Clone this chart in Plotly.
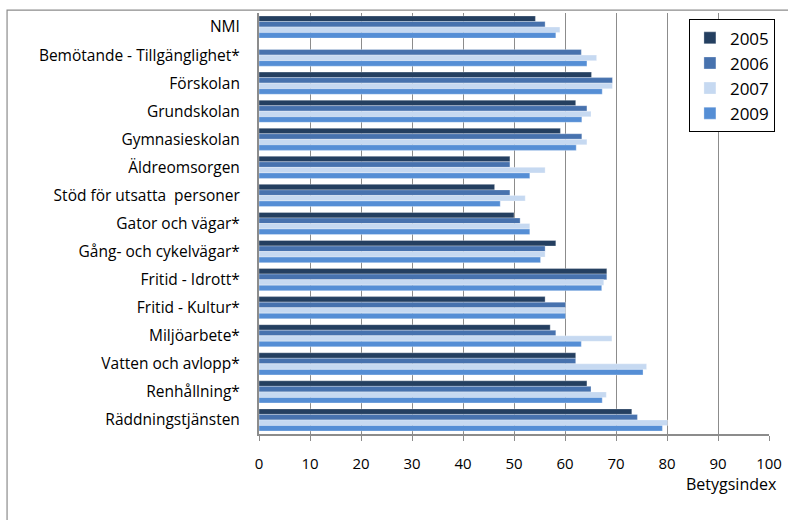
import plotly.graph_objects as go

categories = ["NMI", "Bemötande - Tillgänglighet*", "Förskolan", "Grundskolan",
              "Gymnasieskolan", "Äldreomsorgen", "Stöd för utsatta  personer",
              "Gator och vägar*", "Gång- och cykelvägar*", "Fritid - Idrott*",
              "Fritid - Kultur*", "Miljöarbete*", "Vatten och avlopp*",
              "Renhållning*", "Räddningstjänsten"]

v2005 = [54.2, None, 65.2, 62.1, 59.1, 49.2, 46.2, 50.0, 58.2, 68.2, 56.1, 57.1, 62.1, 64.3, 73.1]
v2006 = [56.1, 63.2, 69.3, 64.3, 63.3, 49.2, 49.2, 51.2, 56.1, 68.2, 60.1, 58.2, 62.1, 65.1, 74.2]
v2007 = [59.0, 66.2, 69.3, 65.1, 64.3, 56.1, 52.2, 53.1, 56.1, 67.6, 60.1, 69.2, 76.0, 68.1, 80.1]
v2009 = [58.2, 64.3, 67.3, 63.3, 62.2, 53.1, 47.3, 53.1, 55.2, 67.2, 60.1, 63.2, 75.3, 67.3, 79.1]

series = [("2005", v2005, "#243F60"), ("2006", v2006, "#4772AE"),
          ("2007", v2007, "#C6D9F1"), ("2009", v2009, "#558ED5")]

x_ticks = [0, 10, 20, 30, 40, 50, 60, 70, 80, 90, 100]

fig = go.Figure()
for name, vals, col in series:
    fig.add_trace(go.Bar(y=categories, x=vals, name=name, orientation="h",
                         marker=dict(color=col, line=dict(color="rgba(255,255,255,0.6)", width=0.5))))

fig.update_layout(
    width=788, height=520,
    margin=dict(l=259, r=19, t=13, b=86, autoexpand=False),
    paper_bgcolor="white", plot_bgcolor="white",
    barmode="group", bargap=0.21, bargroupgap=0,
    font=dict(family="Open Sans, sans-serif", size=14, color="black"),
    legend=dict(x=0.843, y=0.985, xanchor="left", yanchor="top",
                bordercolor="black", borderwidth=1, bgcolor="white",
                font=dict(size=17), traceorder="normal", itemwidth=30,
                tracegroupgap=0),
    xaxis=dict(range=[0, 100], tickvals=x_ticks, showgrid=True, gridcolor="#8C8C8C",
               gridwidth=1.3, showline=True, linecolor="#8C8C8C", linewidth=1.5,
               ticks="outside", ticklen=5, tickcolor="#8C8C8C", zeroline=False,
               ticklabelstandoff=10, tickfont=dict(size=15)),
    yaxis=dict(autorange="reversed", showline=True, linecolor="#8C8C8C", linewidth=2,
               ticks="", ticklabelstandoff=14, tickfont=dict(size=15.5)),
    annotations=[dict(text="Betygsindex", xref="paper", yref="paper", x=1, y=0,
                      xanchor="right", yanchor="middle", xshift=10, yshift=-50,
                      showarrow=False, font=dict(size=16))],
    shapes=[dict(type="rect", xref="paper", yref="paper", x0=-0.494, x1=2.0,
                 y0=-1.0, y1=1.007, line=dict(color="#8C8C8C", width=1.2),
                 fillcolor="rgba(0,0,0,0)", layer="below")],
)

fig.write_html("out.html", config={"displayModeBar": False},
               post_script="document.body.style.margin='0';")
